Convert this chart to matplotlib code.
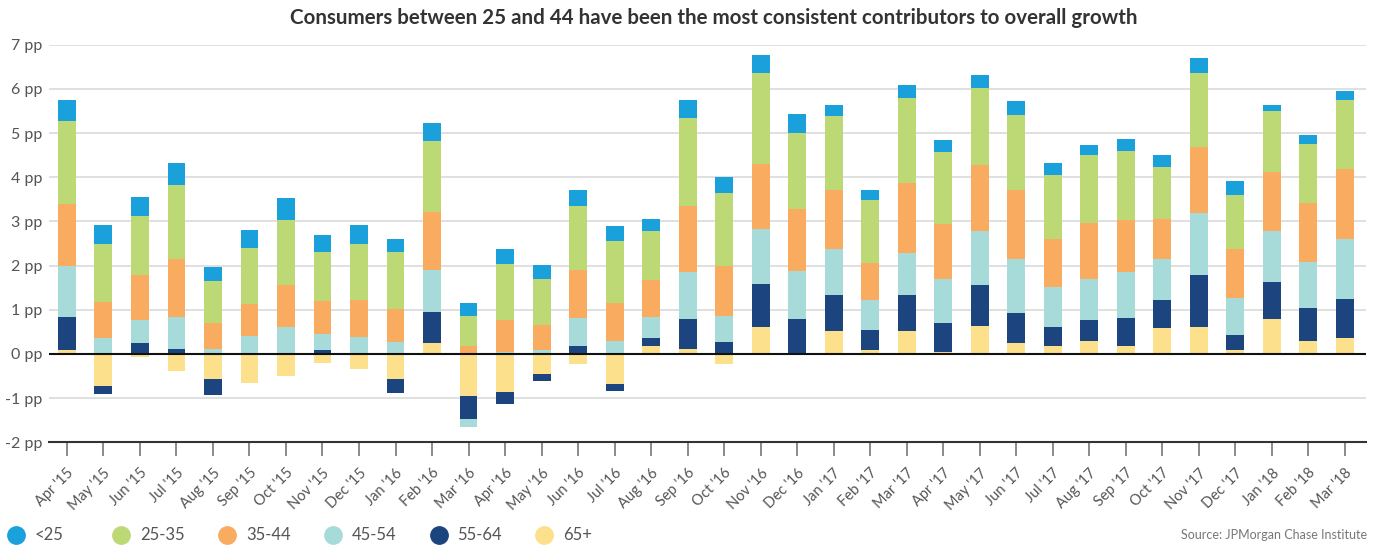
import matplotlib
matplotlib.use("Agg")
import matplotlib.pyplot as plt
from matplotlib.lines import Line2D
import numpy as np

plt.rcParams['font.family'] = ['Lato', 'DejaVu Sans']

months = ["Apr '15", "May '15", "Jun '15", "Jul '15", "Aug '15", "Sep '15", "Oct '15",
          "Nov '15", "Dec '15", "Jan '16", "Feb '16", "Mar '16", "Apr '16", "May '16",
          "Jun '16", "Jul '16", "Aug '16", "Sep '16", "Oct '16", "Nov '16", "Dec '16",
          "Jan '17", "Feb '17", "Mar '17", "Apr '17", "May '17", "Jun '17", "Jul '17",
          "Aug '17", "Sep '17", "Oct '17", "Nov '17", "Dec '17", "Jan '18", "Feb '18",
          "Mar '18"]

# contribution to growth, percentage points, by age group
age_u25 = [0.48, 0.43, 0.43, 0.50, 0.32, 0.41, 0.48, 0.39, 0.43, 0.30, 0.39,
           0.30, 0.34, 0.32, 0.36, 0.34, 0.27, 0.41, 0.36, 0.41, 0.43, 0.25, 0.23,
           0.30, 0.27, 0.30, 0.32, 0.27, 0.23, 0.27, 0.27, 0.32, 0.32, 0.14, 0.20, 0.20]
age_25_35 = [1.88, 1.32, 1.33, 1.68, 0.96, 1.25, 1.48, 1.11, 1.27, 1.30, 1.62,
             0.66, 1.27, 1.04, 1.47, 1.39, 1.11, 1.98, 1.66, 2.07, 1.73, 1.66, 1.43,
             1.91, 1.64, 1.73, 1.71, 1.46, 1.55, 1.55, 1.18, 1.68, 1.23, 1.37, 1.34, 1.57]
age_35_44 = [1.41, 0.82, 1.03, 1.32, 0.57, 0.73, 0.96, 0.75, 0.82, 0.73, 1.30,
             0.19, 0.71, 0.58, 1.08, 0.86, 0.84, 1.50, 1.11, 1.46, 1.41, 1.34, 0.84,
             1.59, 1.25, 1.50, 1.55, 1.09, 1.27, 1.18, 0.91, 1.50, 1.11, 1.34, 1.34, 1.57]
age_45_54 = [1.15, 0.35, 0.52, 0.71, 0.12, 0.39, 0.58, 0.37, 0.39, 0.28, 0.96,
             -0.18, 0.05, 0.08, 0.64, 0.30, 0.46, 1.05, 0.59, 1.25, 1.09, 1.05, 0.68,
             0.96, 1.00, 1.23, 1.23, 0.89, 0.93, 1.05, 0.93, 1.41, 0.84, 1.16, 1.02, 1.37]
age_55_64 = [0.75, -0.18, 0.24, 0.12, -0.38, 0.02, 0.02, 0.08, 0.00, -0.32, 0.71,
             -0.52, -0.27, -0.16, 0.17, -0.16, 0.20, 0.68, 0.28, 0.96, 0.76, 0.82, 0.46,
             0.82, 0.64, 0.91, 0.68, 0.43, 0.46, 0.64, 0.64, 1.16, 0.34, 0.82, 0.75, 0.89]
age_65p = [0.08, -0.72, -0.06, -0.38, -0.56, -0.65, -0.49, -0.21, -0.34, -0.56, 0.24,
           -0.95, -0.86, -0.45, -0.22, -0.67, 0.17, 0.12, -0.22, 0.62, 0.02, 0.51, 0.08,
           0.51, 0.05, 0.64, 0.24, 0.19, 0.30, 0.17, 0.58, 0.62, 0.08, 0.80, 0.30, 0.35]

legend_labels = ["<25", "25-35", "35-44", "45-54", "55-64", "65+"]
colors = ["#1aa0db", "#bdd976", "#f9ac60", "#a6dbd9", "#1c4580", "#fce08c"]
series = [age_u25, age_25_35, age_35_44, age_45_54, age_55_64, age_65p]

yticks = [-2, -1, 0, 1, 2, 3, 4, 5, 6, 7]
ytick_labels = ["%d pp" % v for v in yticks]

fig = plt.figure(figsize=(13.77, 5.47), dpi=100)
ax = fig.add_axes([0.0356, 0.1914, 0.9564, 0.7269])

x = np.arange(len(months))
pos_base = np.zeros(len(months))
neg_base = np.zeros(len(months))
# stack from the oldest group upward; negatives stack downward separately
for vals, col in zip(series[::-1], colors[::-1]):
    v = np.array(vals, dtype=float)
    base = np.where(v >= 0, pos_base, neg_base)
    ax.bar(x, v, bottom=base, width=0.49, color=col, linewidth=0, zorder=2)
    pos_base += np.where(v >= 0, v, 0)
    neg_base += np.where(v < 0, v, 0)

ax.set_xlim(-0.49, len(months) - 1 + 0.58)
ax.set_ylim(-2, 7)
ax.set_yticks(yticks)
ax.set_yticklabels(ytick_labels)
ax.yaxis.grid(True, color="#dddddd", linewidth=1.3, zorder=0)
ax.axhline(0, color="#111111", linewidth=1.5, zorder=3)
ax.set_axisbelow(True)

ax.set_xticks(x)
ax.set_xticklabels(months, rotation=45, ha="right", rotation_mode="anchor")

for side in ["top", "right", "left"]:
    ax.spines[side].set_visible(False)
ax.spines["bottom"].set_color("#333333")
ax.spines["bottom"].set_linewidth(1.5)

ax.tick_params(axis="y", length=0, pad=5, labelsize=11.5, labelcolor="#555555")
ax.tick_params(axis="x", length=10, width=1.2, color="#777777", pad=7,
               labelsize=10.5, labelcolor="#555555")

fig.text(0.5185, 0.968, "Consumers between 25 and 44 have been the most consistent contributors to overall growth",
         ha="center", va="center", fontsize=14.8, fontweight="bold", color="#333333")

# legend row along the bottom
step = 105.7 / 1377
x0 = 15.7 / 1377
ly = 12 / 547
for i, (lab, col) in enumerate(zip(legend_labels, colors)):
    mx = x0 + i * step
    fig.add_artist(Line2D([mx], [ly], marker="o", markersize=12.5, color=col,
                          linestyle="none", transform=fig.transFigure))
    fig.text(mx + 19 / 1377, ly, lab, ha="left", va="center", fontsize=12, color="#555555")

fig.text(1367 / 1377, ly, "Source: JPMorgan Chase Institute", ha="right", va="center",
         fontsize=9, color="#777777")

fig.savefig("out.png", dpi=100)
